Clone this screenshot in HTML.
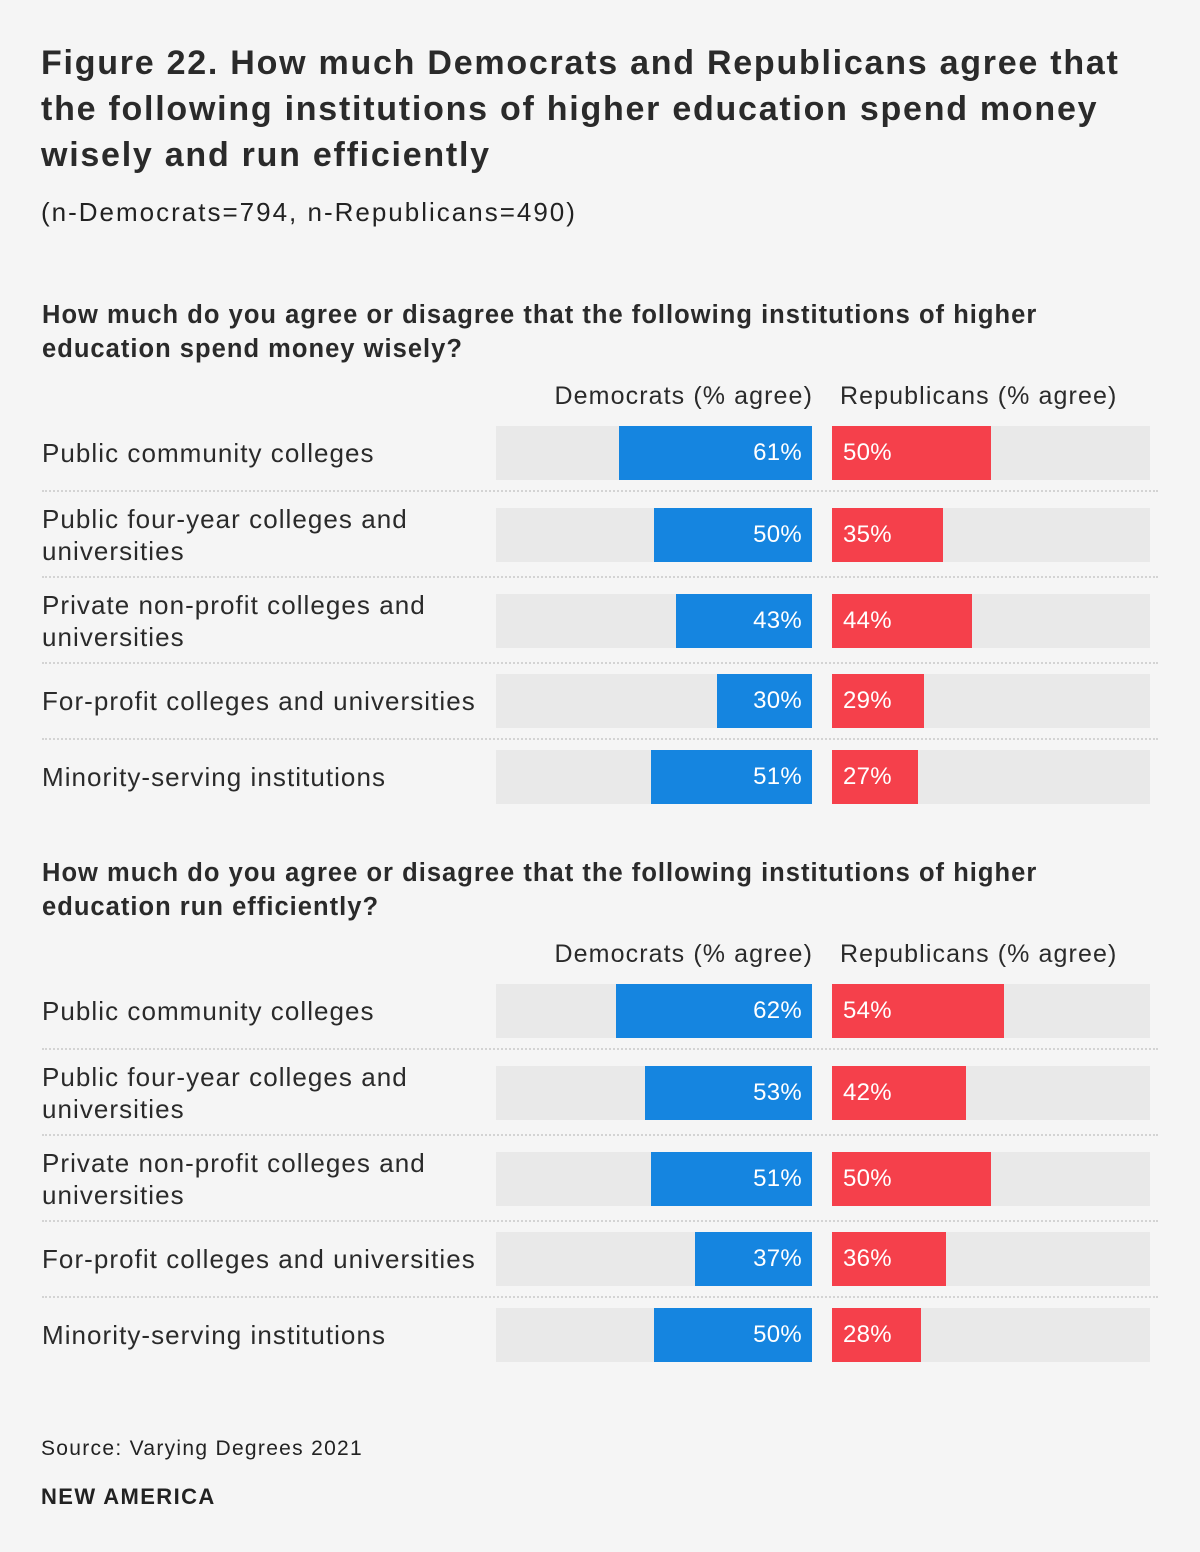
<!DOCTYPE html>
<html><head><meta charset="utf-8"><style>
body{margin:0;background:#f5f5f5;font-family:"Liberation Sans",sans-serif;color:#222;}
#page{position:relative;width:1200px;height:1552px;overflow:hidden;}
.abs{position:absolute;white-space:nowrap;}
h1{position:absolute;left:41px;top:40px;margin:0;font-size:34px;line-height:46px;font-weight:bold;color:#2a2a2a;letter-spacing:1.75px;white-space:nowrap;}
.q{position:absolute;left:42px;font-weight:bold;font-size:25.5px;line-height:34px;color:#2a2a2a;letter-spacing:1.03px;white-space:nowrap;}
.lbl{position:absolute;left:42px;font-size:26px;line-height:32px;color:#2a2a2a;letter-spacing:1.05px;white-space:nowrap;}
.hdr{position:absolute;font-size:25px;color:#2a2a2a;white-space:nowrap;letter-spacing:1.1px;}
.val{position:absolute;color:#fff;font-size:24px;line-height:54px;letter-spacing:0.3px;}
</style></head><body>
<div id="page">
<h1>Figure 22. How much Democrats and Republicans agree that<br>the following institutions of higher education spend money<br>wisely and run efficiently</h1>
<div class="abs" style="left:41px;top:197px;font-size:26px;letter-spacing:2px;">(n-Democrats=794, n-Republicans=490)</div>
<div class="abs" style="left:41px;top:1437px;font-size:21px;letter-spacing:1.3px;">Source: Varying Degrees 2021</div>
<div class="abs" style="left:41px;top:1484px;font-size:22px;font-weight:bold;letter-spacing:1.4px;">NEW AMERICA</div>
</div>
<script>
const categories=["Public community colleges","Public four-year colleges and<br>universities","Private non-profit colleges and<br>universities","For-profit colleges and universities","Minority-serving institutions"];
const questions=["How much do you agree or disagree that the following institutions of higher<br>education spend money wisely?","How much do you agree or disagree that the following institutions of higher<br>education run efficiently?"];
const demWisely=[61,50,43,30,51];
const repWisely=[50,35,44,29,27];
const demEfficient=[62,53,51,37,50];
const repEfficient=[54,42,50,36,28];

const page=document.getElementById('page');
const DEM_R=812, DEM_W=316, REP_L=832, REP_W=318, BAR_H=54;
const rowOffsets=[0,82,168,248,324];
const sepOffsets=[65,151,237,313];
const sections=[{top:0,dem:demWisely,rep:repWisely,q:questions[0]},{top:558,dem:demEfficient,rep:repEfficient,q:questions[1]}];
function dx(v){return DEM_W*v/100;}
function rx(v){return REP_W*v/100;}
function mk(cls,style,html){const d=document.createElement('div');d.className=cls;d.style.cssText=style;if(html!==undefined)d.innerHTML=html;page.appendChild(d);return d;}
sections.forEach((s,si)=>{
  const o=s.top;
  const q=mk('q','top:'+(298+o)+'px;',s.q);
  
  
  const h1=mk('hdr','right:'+(1200-DEM_R-1)+'px;top:'+(382+o)+'px;','Democrats (% agree)');
  
  
  const h2=mk('hdr','left:840px;top:'+(382+o)+'px;','Republicans (% agree)');
  
  
  categories.forEach((c,i)=>{
    const top=426+o+rowOffsets[i];
    const lines=c.split('<br>').length;
    const l=mk('lbl','top:'+(top+27-lines*16)+'px;',c);
    
    
    const t1=mk('', 'position:absolute;left:'+(DEM_R-DEM_W)+'px;top:'+top+'px;width:'+DEM_W+'px;height:'+BAR_H+'px;background:#e9e9e9;');
    
    
    const t2=mk('', 'position:absolute;left:'+REP_L+'px;top:'+top+'px;width:'+REP_W+'px;height:'+BAR_H+'px;background:#e9e9e9;');
    
    
    const b1=mk('', 'position:absolute;left:'+(DEM_R-dx(s.dem[i]))+'px;top:'+top+'px;width:'+dx(s.dem[i])+'px;height:'+BAR_H+'px;background:#1585e0;');
    
    
    const b2=mk('', 'position:absolute;left:'+REP_L+'px;top:'+top+'px;width:'+rx(s.rep[i])+'px;height:'+BAR_H+'px;background:#f5404b;');
    
    
    const v1=mk('val','right:'+(1200-802)+'px;top:'+top+'px;',s.dem[i]+'%');
    
    
    const v2=mk('val','left:843px;top:'+top+'px;',s.rep[i]+'%');
    
    
    if(i<sepOffsets.length){
      const sp=mk('', 'position:absolute;left:42px;width:1116px;top:'+(426+o+sepOffsets[i]-1)+'px;border-top:2px dotted #d3d3d3;');
      
      
    }
  });
});
</script>
</body></html>
